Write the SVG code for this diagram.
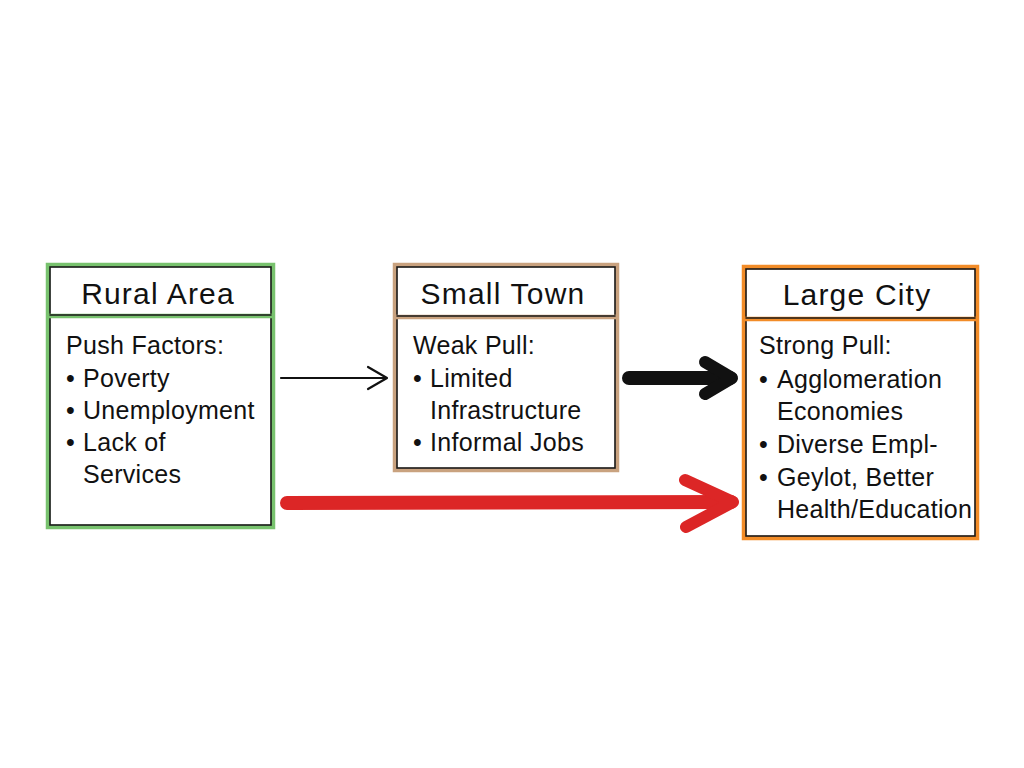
<svg xmlns="http://www.w3.org/2000/svg" width="1024" height="768" viewBox="0 0 1024 768">
<style>
.t{font-family:"Liberation Sans",Arial,sans-serif;font-size:30px;letter-spacing:1.2px;fill:#111}
.b{font-family:"Liberation Sans",Arial,sans-serif;font-size:25px;letter-spacing:0.3px;fill:#111}
.ink{fill:none;stroke:#1a1a1a;stroke-width:1.6;stroke-linecap:round}
</style>
<rect width="1024" height="768" fill="#ffffff"/>
<g id="rural">
<rect x="48" y="265" width="225" height="262" fill="#fff" stroke="#78c26e" stroke-width="4.5"/>
<rect x="50" y="267" width="221" height="258" class="ink"/>
<line x1="48" y1="316" x2="273" y2="316" stroke="#78c26e" stroke-width="4.5"/>
<line x1="50" y1="315" x2="271" y2="315" class="ink"/>
<text x="158" y="304" class="t" text-anchor="middle">Rural Area</text>
<text class="b" x="66" y="354">Push Factors:</text>
<text class="b" x="66" y="387">•</text><text class="b" x="83" y="387">Poverty</text>
<text class="b" x="66" y="419">•</text><text class="b" x="83" y="419">Unemployment</text>
<text class="b" x="66" y="451">•</text><text class="b" x="83" y="451">Lack of</text>
<text class="b" x="83" y="483">Services</text>
</g>
<g id="town">
<rect x="395" y="265" width="222" height="205" fill="#fff" stroke="#c9a27f" stroke-width="4.5"/>
<rect x="397" y="267" width="218" height="201" class="ink"/>
<line x1="395" y1="317" x2="617" y2="317" stroke="#c9a27f" stroke-width="4.5"/>
<line x1="397" y1="316" x2="615" y2="316" class="ink"/>
<text x="503" y="304" class="t" text-anchor="middle">Small Town</text>
<text class="b" x="413" y="354">Weak Pull:</text>
<text class="b" x="413" y="387">•</text><text class="b" x="430" y="387">Limited</text>
<text class="b" x="430" y="419">Infrastructure</text>
<text class="b" x="413" y="451">•</text><text class="b" x="430" y="451">Informal Jobs</text>
</g>
<g id="city">
<rect x="744" y="267" width="233" height="271" fill="#fff" stroke="#f28c28" stroke-width="4.5"/>
<rect x="746" y="269" width="229" height="267" class="ink"/>
<line x1="744" y1="319" x2="977" y2="319" stroke="#f28c28" stroke-width="4.5"/>
<line x1="746" y1="318" x2="975" y2="318" class="ink"/>
<text x="857" y="305" class="t" text-anchor="middle">Large City</text>
<text class="b" x="759" y="354">Strong Pull:</text>
<text class="b" x="759" y="388">•</text><text class="b" x="777" y="388">Agglomeration</text>
<text class="b" x="777" y="420">Economies</text>
<text class="b" x="759" y="453">•</text><text class="b" x="777" y="453">Diverse Empl-</text>
<text class="b" x="759" y="486">•</text><text class="b" x="777" y="486">Geylot, Better</text>
<text class="b" x="777" y="518">Health/Education</text>
</g>
<g id="connectors" fill="none" stroke-linecap="round" stroke-linejoin="round">
<path d="M281 378 L386 378 M368 367 L387 378 L368 389" stroke="#111" stroke-width="2.2"/>
<path d="M629 378 L730 378" stroke="#111" stroke-width="14"/>
<path d="M705 362 L732 378 L705 394" stroke="#111" stroke-width="12"/>
<path d="M287 503 L731 502" stroke="#dc2626" stroke-width="14"/>
<path d="M685 480 L733 502 L686 527" stroke="#dc2626" stroke-width="12"/>
</g>
</svg>
